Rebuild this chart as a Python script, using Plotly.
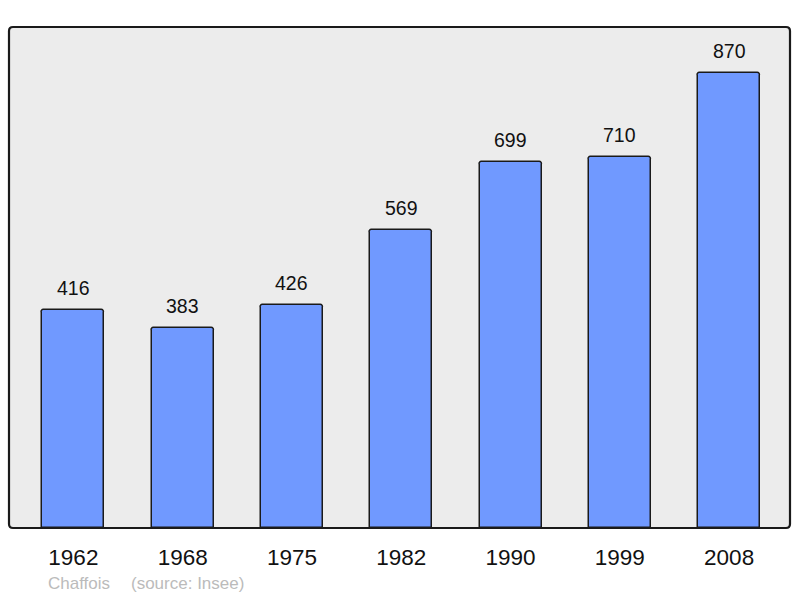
import plotly.graph_objects as go

years = ["1962", "1968", "1975", "1982", "1990", "1999", "2008"]
population = [416, 383, 426, 569, 699, 710, 870]
commune = "Chaffois"
source = "(source: Insee)"

xpos = list(range(len(years)))

W, H = 800, 598
ML, MR, MT, MB = 8.5, 9.5, 27, 70
pw, ph = W - ML - MR, H - MT - MB

fig = go.Figure()
fig.add_trace(go.Bar(
    x=xpos, y=population, width=0.567,
    marker=dict(color="#7099ff", line=dict(color="#1a1a1a", width=1.5), cornerradius=3),
    hoverinfo="skip",
))

# value labels above the bars
for xi, v in zip(xpos, population):
    fig.add_annotation(x=xi, y=v, text=str(v), showarrow=False,
                       yanchor="middle", yshift=22,
                       font=dict(size=19.5, color="#111111"))

# rounded frame round the plot area
rx, ry = 4 / pw, 4 / ph
frame = (f"M {rx},0 L {1 - rx},0 Q 1,0 1,{ry} L 1,{1 - ry} Q 1,1 {1 - rx},1 "
         f"L {rx},1 Q 0,1 0,{1 - ry} L 0,{ry} Q 0,0 {rx},0 Z")
fig.add_shape(type="path", xref="x domain", yref="y domain", path=frame,
              line=dict(color="#1a1a1a", width=2.2), layer="above")

# footnote
fig.add_annotation(xref="paper", yref="paper", x=37.5 / pw, y=-55 / ph,
                   xanchor="left", yanchor="middle", showarrow=False, text=commune,
                   font=dict(size=17, color="#bbbbbb"))
fig.add_annotation(xref="paper", yref="paper", x=120 / pw, y=-55 / ph,
                   xanchor="left", yanchor="middle", showarrow=False, text=source,
                   font=dict(size=17, color="#bbbbbb"))

fig.update_xaxes(range=[-0.589, 6.557], tickvals=xpos, ticktext=years,
                 ticks="outside", ticklen=9, tickcolor="rgba(0,0,0,0)",
                 tickfont=dict(size=22.5, color="#111111"),
                 showgrid=False, zeroline=False, showline=False)
fig.update_yaxes(range=[0, 958], showticklabels=False, showgrid=False,
                 zeroline=False, showline=False)

fig.update_layout(
    width=W, height=H,
    margin=dict(l=ML, r=MR, t=MT, b=MB, pad=0),
    plot_bgcolor="#ececec", paper_bgcolor="white",
    font=dict(family="Liberation Sans, Arial, sans-serif"),
    showlegend=False, bargap=0,
)

# drop the default 8px body margin so the figure fills the window
fig.write_html("out.html", config={"displayModeBar": False},
               post_script="document.body.style.margin='0';document.body.style.overflow='hidden';")
